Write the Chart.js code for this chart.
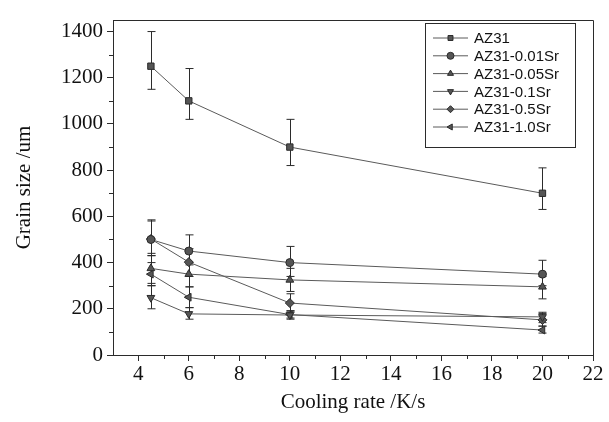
<!DOCTYPE html>
<html>
<head>
<meta charset="utf-8">
<script src="https://cdn.jsdelivr.net/npm/chart.js@4.4.0/dist/chart.umd.min.js"></script>
<style>
  html, body { margin: 0; background: #fff; }
  #wrap { width: 609px; height: 422px; }
</style>
</head>
<body>
<div id="wrap"><canvas id="chart" width="609" height="422"></canvas></div>
<script>
// cooling rate (K/s) and grain size (um)
const coolingRates = [4.5, 6, 10, 20];

const az31      = [1250, 1100, 900, 700];
const az31Low   = [1150, 1020, 820, 630];
const az31High  = [1400, 1240, 1020, 810];

const sr001     = [500, 450, 400, 350];
const sr001Low  = [430, 390, 340, 300];
const sr001High = [585, 520, 470, 410];

const sr005     = [375, 350, 325, 295];
const sr005Low  = [310, 295, 275, 243];
const sr005High = [440, 400, 375, 340];

const sr01      = [248, 178, 173, 165];
const sr01Low   = [200, 155, 155, 140];
const sr01High  = [300, 205, 190, 185];

const sr05      = [502, 402, 225, 152];
const sr05Low   = [430, 340, 185, 125];
const sr05High  = [580, 460, 265, 180];

const sr10      = [350, 250, 175, 108];
const sr10Low   = [300, 205, 160, 95];
const sr10High  = [400, 295, 192, 125];

const xTicks = [4, 6, 8, 10, 12, 14, 16, 18, 20, 22];
const xMinorTicks = [5, 7, 9, 11, 13, 15, 17, 19, 21];
const yTicks = [0, 200, 400, 600, 800, 1000, 1200, 1400];
const yMinorTicks = [100, 300, 500, 700, 900, 1100, 1300];

const ink = '#2b2b2b';
const lineGray = '#5a5a5a';

const makeSet = (label, values, low, high, pointStyle, rotation) => ({
  label,
  data: coolingRates.map((x, i) => ({ x, y: values[i] })),
  errLow: low,
  errHigh: high,
  pointStyle,
  rotation,
  borderColor: lineGray,
  borderWidth: 1,
  pointRadius: pointStyle === 'circle' ? 4 : 4.5,
  pointBackgroundColor: '#555',
  pointBorderColor: ink,
  pointBorderWidth: 1,
  pointRotation: rotation,
  tension: 0,
  clip: false
});

const datasets = [
  makeSet('AZ31', az31, az31Low, az31High, 'rect', 0),
  makeSet('AZ31-0.01Sr', sr001, sr001Low, sr001High, 'circle', 0),
  makeSet('AZ31-0.05Sr', sr005, sr005Low, sr005High, 'triangle', 0),
  makeSet('AZ31-0.1Sr', sr01, sr01Low, sr01High, 'triangle', 180),
  makeSet('AZ31-0.5Sr', sr05, sr05Low, sr05High, 'rectRot', 0),
  makeSet('AZ31-1.0Sr', sr10, sr10Low, sr10High, 'triangle', -90)
];

// error bars, drawn before the points
const errorBars = {
  id: 'errorBars',
  beforeDatasetsDraw(chart) {
    const { ctx, scales: { x, y } } = chart;
    ctx.save();
    ctx.strokeStyle = ink;
    ctx.lineWidth = 1;
    chart.data.datasets.forEach((ds) => {
      ds.data.forEach((p, i) => {
        const px = Math.round(x.getPixelForValue(p.x)) + 0.5;
        const top = y.getPixelForValue(ds.errHigh[i]);
        const bot = y.getPixelForValue(ds.errLow[i]);
        ctx.beginPath();
        ctx.moveTo(px, top); ctx.lineTo(px, bot);
        ctx.moveTo(px - 4, top); ctx.lineTo(px + 4, top);
        ctx.moveTo(px - 4, bot); ctx.lineTo(px + 4, bot);
        ctx.stroke();
      });
    });
    ctx.restore();
  }
};

// frame on top/right, minor ticks, boxed legend
const frameAndLegend = {
  id: 'frameAndLegend',
  afterDraw(chart) {
    const { ctx, chartArea: a, scales: { x, y } } = chart;
    ctx.save();
    ctx.strokeStyle = ink;
    ctx.lineWidth = 1;
    ctx.beginPath();
    ctx.moveTo(a.left, a.top + 0.5); ctx.lineTo(a.right + 0.5, a.top + 0.5); ctx.lineTo(a.right + 0.5, a.bottom);
    ctx.stroke();

    ctx.beginPath();
    yMinorTicks.forEach((v) => {
      const py = Math.round(y.getPixelForValue(v)) + 0.5;
      ctx.moveTo(a.left - 4, py); ctx.lineTo(a.left, py);
    });
    xMinorTicks.forEach((v) => {
      const px = Math.round(x.getPixelForValue(v)) + 0.5;
      ctx.moveTo(px, a.bottom); ctx.lineTo(px, a.bottom + 4);
    });
    ctx.stroke();

    // legend box
    const bx = 425.5, by = 23.5, bw = 150, bh = 124;
    ctx.fillStyle = '#fff';
    ctx.fillRect(bx, by, bw, bh);
    ctx.strokeRect(bx, by, bw, bh);
    ctx.font = '15px "Liberation Sans", Arial, sans-serif';
    ctx.textBaseline = 'middle';
    chart.data.datasets.forEach((ds, i) => {
      const ly = 38 + i * 17.8;
      ctx.strokeStyle = lineGray;
      ctx.beginPath();
      ctx.moveTo(433, ly); ctx.lineTo(468, ly);
      ctx.stroke();
      ctx.fillStyle = '#555';
      ctx.strokeStyle = ink;
      Chart.helpers.drawPoint(ctx, {
        pointStyle: ds.pointStyle, rotation: ds.rotation, radius: 3.5, borderWidth: 1
      }, 450.5, ly);
      ctx.fillStyle = '#111';
      ctx.fillText(ds.label, 474, ly + 1);
    });
    ctx.restore();
  }
};

const serif = '"Liberation Serif", "Times New Roman", serif';

new Chart(document.getElementById('chart'), {
  type: 'line',
  data: { datasets },
  plugins: [errorBars, frameAndLegend],
  options: {
    responsive: false,
    animation: false,
    layout: { padding: { top: 20, right: 16, left: 0, bottom: 0 } },
    plugins: { legend: { display: false }, tooltip: { enabled: false } },
    scales: {
      x: {
        type: 'linear',
        min: 3,
        max: 22,
        afterBuildTicks: (s) => { s.ticks = xTicks.map((v) => ({ value: v })); },
        afterFit: (s) => { s.height = 67; },
        grid: { drawOnChartArea: false, tickLength: 6, color: ink, tickColor: ink },
        border: { color: ink, width: 1 },
        ticks: { color: '#111', font: { family: serif, size: 21 }, padding: 1, maxRotation: 0, callback: (v) => String(v) },
        title: { display: true, text: 'Cooling rate /K/s', color: '#111', font: { family: serif, size: 21 }, padding: { top: 0, bottom: 7 } }
      },
      y: {
        type: 'linear',
        min: 0,
        max: 1450,
        afterBuildTicks: (s) => { s.ticks = yTicks.map((v) => ({ value: v })); },
        afterFit: (s) => { s.width = 113; },
        grid: { drawOnChartArea: false, tickLength: 6, color: ink, tickColor: ink },
        border: { color: ink, width: 1 },
        ticks: { color: '#111', font: { family: serif, size: 21 }, padding: 4, callback: (v) => String(v) },
        title: { display: true, text: 'Grain size /um', color: '#111', font: { family: serif, size: 21 }, padding: { top: 12, bottom: 0 } }
      }
    }
  }
});
</script>
</body>
</html>
